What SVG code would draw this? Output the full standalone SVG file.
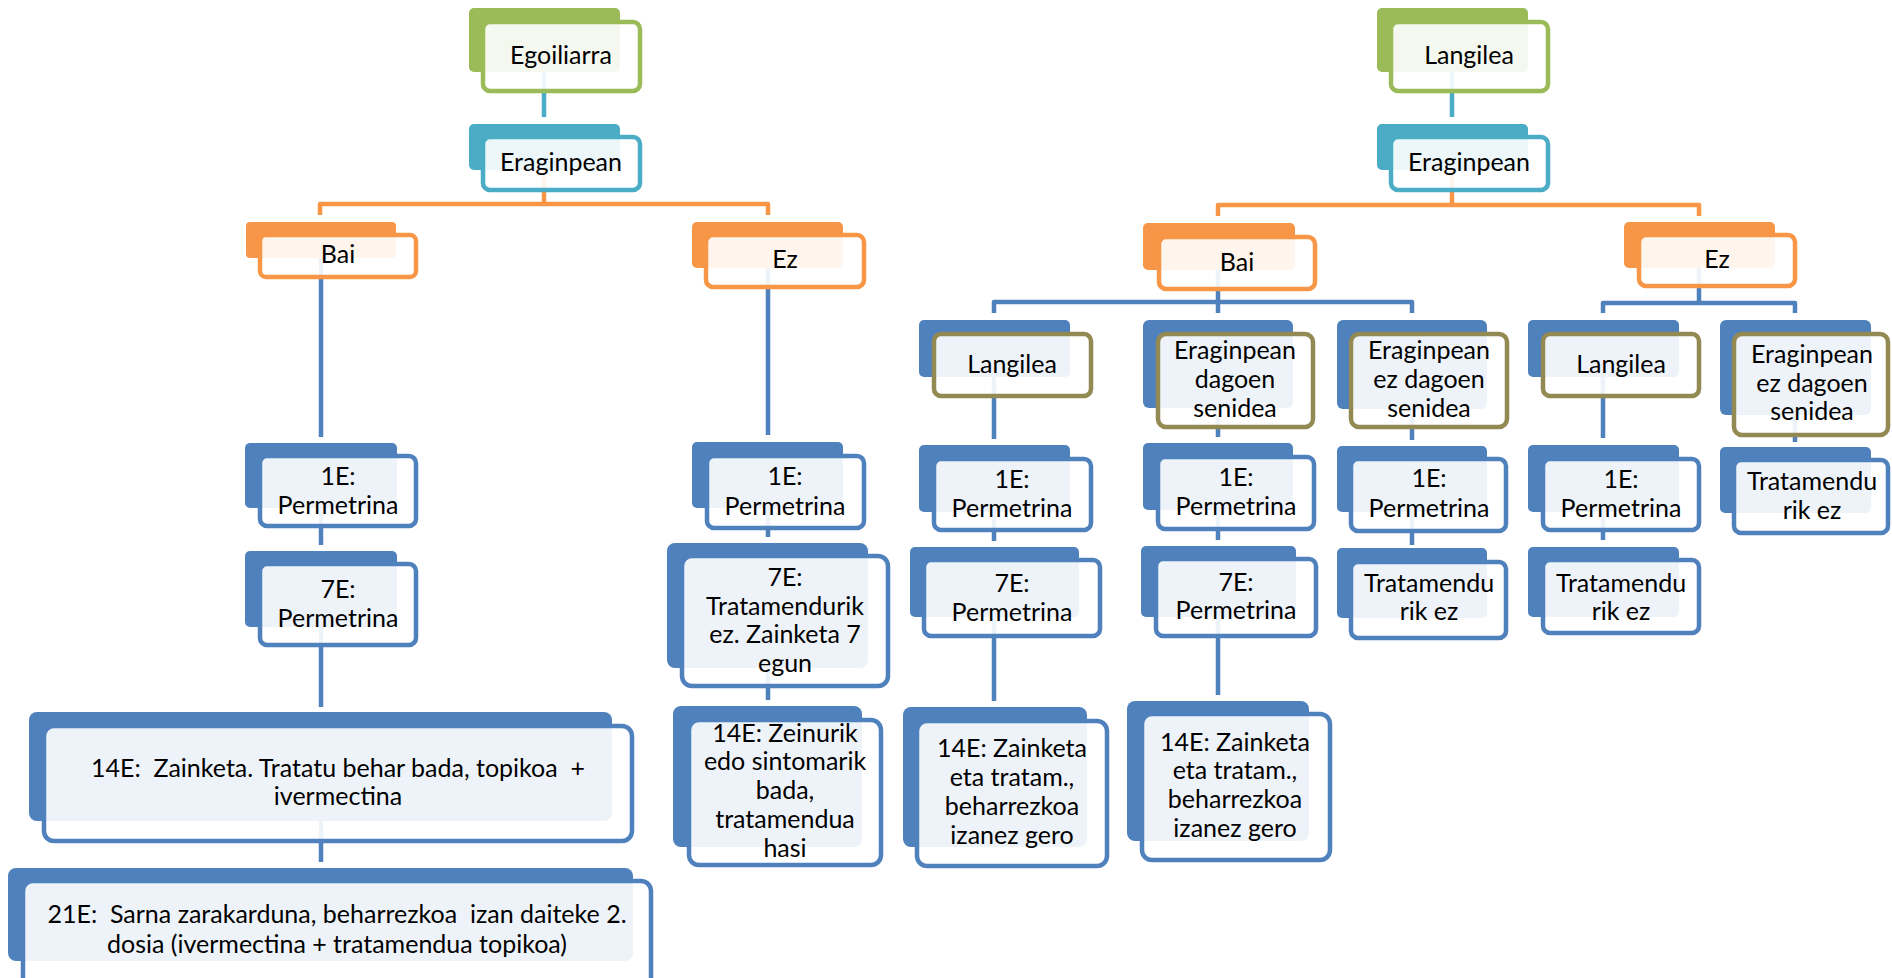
<svg xmlns="http://www.w3.org/2000/svg" width="1892" height="978" viewBox="0 0 1892 978">
<style>
.t{font-family:Lato,"Liberation Sans",sans-serif;font-size:25px;fill:#000;text-anchor:middle;white-space:pre}
.bg{fill:#9BBB59}.bt{fill:#4BACC6}.bo{fill:#F79646}.bb{fill:#4F81BD}
.f{fill:#fff;fill-opacity:.9;stroke-width:4.5}
.sg{stroke:#9BBB59}.st{stroke:#4BACC6}.so{stroke:#F79646}.sb{stroke:#4F81BD}.sv{stroke:#938953}
.c{fill:none;stroke-width:4.5;stroke-linejoin:round}
</style>
<rect width="1892" height="978" fill="#fff"/>
<g id="connectors">
<path class="c" stroke="#4BACC6" d="M544 72V117M1452 72V117"/>
<path class="c" stroke="#F79646" d="M320 215V204H768V215M544 170V204M1218 216V205H1699V216M1452 170V205"/>
<path class="c" stroke="#4F81BD" d="M321 258V437M321 508V545M321 627V707M321 821V862M768 268V435M768 508V537M768 668V700M1218 270V302M994 313V302H1412V313M1218 302V313M1699 268V303M1603 313V303H1795V313M994 377V439M994 512V541M994 617V701M1218 408V437M1218 510V540M1218 617V695M1412 409V440M1412 512V545M1603 377V438M1603 512V540M1795 415V442"/>
</g>
<g id="n-egoiliarra"><rect class="bg" x="469" y="8" width="151" height="64" rx="5"/><rect class="f sg" x="483" y="22" width="157" height="69" rx="7"/><text class="t" x="561" y="64">Egoiliarra</text></g>
<g id="n-eraginpean-l"><rect class="bt" x="469" y="124" width="151" height="46" rx="5"/><rect class="f st" x="483" y="137" width="157" height="53" rx="7"/><text class="t" x="561" y="171">Eraginpean</text></g>
<g id="n-bai-l"><rect class="bo" x="246" y="222" width="150" height="36" rx="4"/><rect class="f so" x="260" y="235" width="156" height="42" rx="6"/><text class="t" x="338" y="263">Bai</text></g>
<g id="n-ez-l"><rect class="bo" x="692" y="222" width="151" height="46" rx="5"/><rect class="f so" x="706" y="235" width="158" height="52" rx="7"/><text class="t" x="785" y="268">Ez</text></g>
<g id="n-l-1e"><rect class="bb" x="245" y="443" width="152" height="65" rx="5"/><rect class="f sb" x="260" y="456" width="156" height="70" rx="7"/><text class="t" x="338" y="485">1E:</text><text class="t" x="338" y="514">Permetrina</text></g>
<g id="n-l-7e"><rect class="bb" x="245" y="551" width="152" height="76" rx="5"/><rect class="f sb" x="260" y="564" width="156" height="81" rx="7"/><text class="t" x="338" y="598">7E:</text><text class="t" x="338" y="627">Permetrina</text></g>
<g id="n-l-14e"><rect class="bb" x="29" y="712" width="583" height="109" rx="8"/><rect class="f sb" x="44" y="726" width="588" height="115" rx="10"/><text class="t" x="338" y="777">14E:  Zainketa. Tratatu behar bada, topikoa  +</text><text class="t" x="338" y="805">ivermectina</text></g>
<g id="n-l-21e"><rect class="bb" x="8" y="868" width="625" height="93" rx="8"/><rect class="f sb" x="23" y="881" width="628" height="107" rx="10"/><text class="t" x="337" y="923">21E:  Sarna zarakarduna, beharrezkoa  izan daiteke 2.</text><text class="t" x="337" y="953">dosia (ivermectina + tratamendua topikoa)</text></g>
<g id="n-ez-1e"><rect class="bb" x="692" y="442" width="151" height="66" rx="5"/><rect class="f sb" x="707" y="456" width="157" height="72" rx="7"/><text class="t" x="785" y="485">1E:</text><text class="t" x="785" y="515">Permetrina</text></g>
<g id="n-ez-7e"><rect class="bb" x="667" y="543" width="201" height="125" rx="8"/><rect class="f sb" x="682" y="556" width="206" height="130" rx="10"/><text class="t" x="785" y="586">7E:</text><text class="t" x="785" y="615">Tratamendurik</text><text class="t" x="785" y="643">ez. Zainketa 7</text><text class="t" x="785" y="672">egun</text></g>
<g id="n-ez-14e"><rect class="bb" x="673" y="706" width="189" height="141" rx="8"/><rect class="f sb" x="689" y="720" width="192" height="145" rx="10"/><text class="t" x="785" y="742">14E: Zeinurik</text><text class="t" x="785" y="770">edo sintomarik</text><text class="t" x="785" y="799">bada,</text><text class="t" x="785" y="828">tratamendua</text><text class="t" x="785" y="857">hasi</text></g>
<g id="n-langilea"><rect class="bg" x="1377" y="8" width="151" height="64" rx="5"/><rect class="f sg" x="1391" y="22" width="157" height="69" rx="7"/><text class="t" x="1469" y="64">Langilea</text></g>
<g id="n-eraginpean-r"><rect class="bt" x="1377" y="124" width="151" height="46" rx="5"/><rect class="f st" x="1391" y="137" width="157" height="53" rx="7"/><text class="t" x="1469" y="171">Eraginpean</text></g>
<g id="n-bai-r"><rect class="bo" x="1143" y="223" width="152" height="47" rx="5"/><rect class="f so" x="1159" y="237" width="156" height="52" rx="7"/><text class="t" x="1237" y="271">Bai</text></g>
<g id="n-ez-r"><rect class="bo" x="1624" y="222" width="151" height="46" rx="5"/><rect class="f so" x="1639" y="235" width="156" height="51" rx="7"/><text class="t" x="1717" y="268">Ez</text></g>
<g id="n-bai-langilea"><rect class="bb" x="919" y="320" width="151" height="57" rx="5"/><rect class="f sv" x="934" y="334" width="157" height="62" rx="7"/><text class="t" x="1012" y="373">Langilea</text></g>
<g id="n-bai-senidea"><rect class="bb" x="1143" y="320" width="150" height="88" rx="6"/><rect class="f sv" x="1158" y="334" width="155" height="93" rx="8"/><text class="t" x="1235" y="359">Eraginpean</text><text class="t" x="1235" y="388">dagoen</text><text class="t" x="1235" y="417">senidea</text></g>
<g id="n-bai-senidea-ez"><rect class="bb" x="1337" y="320" width="150" height="89" rx="6"/><rect class="f sv" x="1351" y="334" width="156" height="93" rx="8"/><text class="t" x="1429" y="359">Eraginpean</text><text class="t" x="1429" y="388">ez dagoen</text><text class="t" x="1429" y="417">senidea</text></g>
<g id="n-ez-langilea"><rect class="bb" x="1528" y="320" width="151" height="57" rx="5"/><rect class="f sv" x="1543" y="334" width="156" height="62" rx="7"/><text class="t" x="1621" y="373">Langilea</text></g>
<g id="n-ez-senidea-ez"><rect class="bb" x="1720" y="320" width="151" height="95" rx="6"/><rect class="f sv" x="1734" y="334" width="154" height="101" rx="8"/><text class="t" x="1812" y="363">Eraginpean</text><text class="t" x="1812" y="392">ez dagoen</text><text class="t" x="1812" y="420">senidea</text></g>
<g id="n-c1-1e"><rect class="bb" x="919" y="445" width="151" height="67" rx="5"/><rect class="f sb" x="934" y="459" width="157" height="71" rx="7"/><text class="t" x="1012" y="488">1E:</text><text class="t" x="1012" y="517">Permetrina</text></g>
<g id="n-c1-7e"><rect class="bb" x="910" y="547" width="169" height="70" rx="5"/><rect class="f sb" x="924" y="560" width="176" height="76" rx="7"/><text class="t" x="1012" y="592">7E:</text><text class="t" x="1012" y="621">Permetrina</text></g>
<g id="n-c1-14e"><rect class="bb" x="903" y="707" width="184" height="140" rx="8"/><rect class="f sb" x="917" y="721" width="190" height="145" rx="10"/><text class="t" x="1012" y="757">14E: Zainketa</text><text class="t" x="1012" y="786">eta tratam.,</text><text class="t" x="1012" y="815">beharrezkoa</text><text class="t" x="1012" y="844">izanez gero</text></g>
<g id="n-c2-1e"><rect class="bb" x="1143" y="443" width="150" height="67" rx="5"/><rect class="f sb" x="1158" y="457" width="156" height="72" rx="7"/><text class="t" x="1236" y="486">1E:</text><text class="t" x="1236" y="515">Permetrina</text></g>
<g id="n-c2-7e"><rect class="bb" x="1141" y="546" width="155" height="71" rx="5"/><rect class="f sb" x="1156" y="559" width="160" height="77" rx="7"/><text class="t" x="1236" y="591">7E:</text><text class="t" x="1236" y="619">Permetrina</text></g>
<g id="n-c2-14e"><rect class="bb" x="1127" y="701" width="182" height="140" rx="8"/><rect class="f sb" x="1142" y="714" width="188" height="146" rx="10"/><text class="t" x="1235" y="751">14E: Zainketa</text><text class="t" x="1235" y="779">eta tratam.,</text><text class="t" x="1235" y="808">beharrezkoa</text><text class="t" x="1235" y="837">izanez gero</text></g>
<g id="n-c3-1e"><rect class="bb" x="1337" y="446" width="150" height="66" rx="5"/><rect class="f sb" x="1351" y="459" width="155" height="72" rx="7"/><text class="t" x="1429" y="487">1E:</text><text class="t" x="1429" y="517">Permetrina</text></g>
<g id="n-c3-t"><rect class="bb" x="1337" y="548" width="150" height="70" rx="5"/><rect class="f sb" x="1351" y="562" width="155" height="76" rx="7"/><text class="t" x="1429" y="592">Tratamendu</text><text class="t" x="1429" y="620">rik ez</text></g>
<g id="n-c4-1e"><rect class="bb" x="1528" y="445" width="151" height="67" rx="5"/><rect class="f sb" x="1543" y="459" width="156" height="71" rx="7"/><text class="t" x="1621" y="488">1E:</text><text class="t" x="1621" y="517">Permetrina</text></g>
<g id="n-c4-t"><rect class="bb" x="1528" y="547" width="151" height="70" rx="5"/><rect class="f sb" x="1543" y="560" width="156" height="73" rx="7"/><text class="t" x="1621" y="592">Tratamendu</text><text class="t" x="1621" y="620">rik ez</text></g>
<g id="n-c5-t"><rect class="bb" x="1720" y="447" width="151" height="66" rx="5"/><rect class="f sb" x="1734" y="460" width="154" height="73" rx="7"/><text class="t" x="1812" y="490">Tratamendu</text><text class="t" x="1812" y="519">rik ez</text></g>
</svg>
